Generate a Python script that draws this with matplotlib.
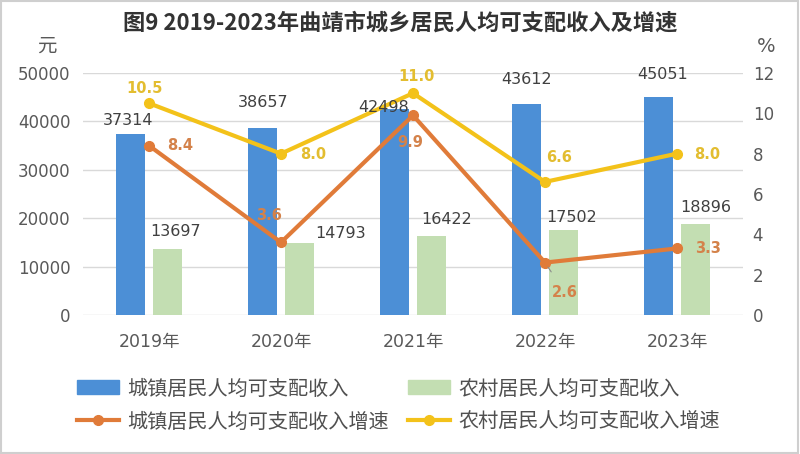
import matplotlib
import numpy as np

matplotlib.use("Agg")
import matplotlib.pyplot as plt
from matplotlib.lines import Line2D
from matplotlib.patches import Patch, Rectangle

years = ["2019年", "2020年", "2021年", "2022年", "2023年"]
urban_income = [37314, 38657, 42498, 43612, 45051]
rural_income = [13697, 14793, 16422, 17502, 18896]
urban_growth = [8.4, 3.6, 9.9, 2.6, 3.3]
rural_growth = [10.5, 8.0, 11.0, 6.6, 8.0]

# label offsets in pixels (dx, dy), placed by hand like in the source chart
urban_bar_off = [(-2, 14), (1, 25), (-11, 2), (0, 24), (4, 22)]
rural_bar_off = [(8, 17), (41, 10), (15, 16), (8, 13), (10, 16)]
urban_rate_off = [(31, 0), (-12, 27), (-3, -27), (20, -30), (31, 0)]
rural_rate_off = [(-4, 15), (32, -1), (3, 17), (14, 24), (30, -1)]

BLUE = "#4C8FD6"
GREEN = "#C3DEB2"
ORANGE = "#E07B39"
YELLOW = "#F3C21A"
ORANGE_TXT = "#D4824A"
YELLOW_TXT = "#E3BD30"
GRID = "#D9D9D9"
TICK = "#595959"
CJK = "Noto Sans CJK SC"

plt.rcParams["font.family"] = ["DejaVu Sans", CJK]

W, H = 800, 454
fig = plt.figure(figsize=(W / 100, H / 100), dpi=100)
fig.patch.set_facecolor("white")
fig.add_artist(
    Rectangle((0.001, 0.002), 0.997, 0.995, transform=fig.transFigure,
              fill=False, edgecolor="#CFCFCF", linewidth=1.5)
)

ax = fig.add_axes([83 / W, 1 - 315 / H, 660 / W, 242 / H])
ax2 = ax.twinx()

x = np.arange(len(years))
bw = 0.22
ax.bar(x - 0.14, urban_income, width=bw, color=BLUE, zorder=2)
ax.bar(x + 0.14, rural_income, width=bw, color=GREEN, zorder=2)
ax.set_xlim(-0.5, len(years) - 0.5)
ax.set_ylim(0, 50000)
ax.set_yticks(range(0, 50001, 10000))
ax.set_xticks(x, years)
ax.yaxis.grid(True, color=GRID, linewidth=1, zorder=0)
ax.set_axisbelow(True)
for s in ax.spines.values():
    s.set_visible(False)
ax.tick_params(length=0, colors=TICK)
ax.tick_params(axis="y", pad=9, labelsize=12)
ax.tick_params(axis="x", pad=13, labelsize=12.5)

ax2.plot(x, urban_growth, color=ORANGE, lw=3, marker="o", ms=7, zorder=3)
ax2.plot(x, rural_growth, color=YELLOW, lw=3, marker="o", ms=7, zorder=3)
ax2.set_ylim(0, 12)
ax2.set_yticks(range(0, 13, 2))
for s in ax2.spines.values():
    s.set_visible(False)
ax2.tick_params(length=0, colors=TICK, pad=7, labelsize=12)

px = 0.72  # points per pixel at dpi 100
for i in x:
    for vals, offs, dx0 in ((urban_income, urban_bar_off, -0.14),
                            (rural_income, rural_bar_off, 0.14)):
        ax2.annotate(str(vals[i]), xy=(i + dx0, vals[i]), xycoords=ax.transData,
                     xytext=(offs[i][0] * px, offs[i][1] * px),
                     textcoords="offset points", ha="center", va="center",
                     fontsize=11.5, color="#404040", zorder=5)
    for vals, offs, col in ((urban_growth, urban_rate_off, ORANGE_TXT),
                            (rural_growth, rural_rate_off, YELLOW_TXT)):
        arrow = None
        if vals is urban_growth and i == 3:
            arrow = dict(arrowstyle="-", color="#8C8C8C", lw=0.8,
                         shrinkA=9, shrinkB=4)
        ax2.annotate(f"{vals[i]:.1f}", xy=(i, vals[i]),
                     xytext=(offs[i][0] * px, offs[i][1] * px),
                     textcoords="offset points", ha="center", va="center",
                     fontsize=10.5, fontweight="bold", color=col, zorder=5,
                     arrowprops=arrow)

fig.text(400 / W, 1 - 23 / H, "图9 2019-2023年曲靖市城乡居民人均可支配收入及增速",
         family=[CJK], fontsize=16, fontweight="bold", color="#333333",
         ha="center", va="center")
fig.text(47 / W, 1 - 46 / H, "元", family=[CJK], fontsize=14, color=TICK,
         ha="center", va="center")
fig.text(766 / W, 1 - 46 / H, "%", fontsize=14, color=TICK,
         ha="center", va="center")

handles = [
    Patch(color=BLUE),
    Line2D([], [], color=ORANGE, lw=3, marker="o", ms=7),
    Patch(color=GREEN),
    Line2D([], [], color=YELLOW, lw=3, marker="o", ms=7),
]
labels = ["城镇居民人均可支配收入", "城镇居民人均可支配收入增速",
          "农村居民人均可支配收入", "农村居民人均可支配收入增速"]
fig.legend(handles, labels, ncol=2, loc="center left",
           bbox_to_anchor=(77 / W, 1 - 405.5 / H), frameon=False,
           borderpad=0, borderaxespad=0, handlelength=2.1,
           handletextpad=0.4, columnspacing=0.95, labelspacing=0.6,
           prop={"family": CJK, "size": 14.5}, labelcolor="#505050")

fig.savefig("out.png", dpi=100)
